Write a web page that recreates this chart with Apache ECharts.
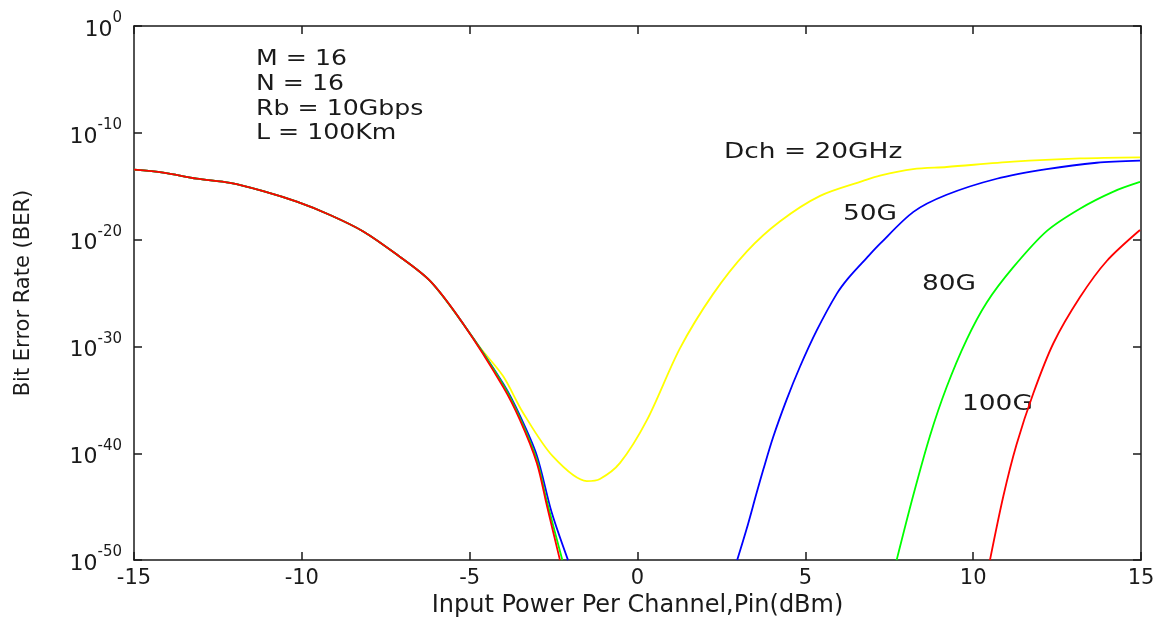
<!DOCTYPE html>
<html>
<head>
<meta charset="utf-8">
<script src="https://cdn.jsdelivr.net/npm/echarts@6/dist/echarts.min.js"></script>
<style>html,body{margin:0;padding:0;background:#fff}#c{width:1160px;height:623px}</style>
</head>
<body>
<div id="c"></div>
<script>
// Y values are log10(BER); the axis shows them as powers of ten.
// Shared low-power branch (all four Dch values coincide here)
var commonX   = [-15, -14.13, -13.13, -12.14, -11.15, -10.15, -9.16, -8.17, -7.17, -6.18, -5.19];
var commonLog = [-13.45, -13.73, -14.29, -14.69, -15.46, -16.45, -17.69, -19.23, -21.4, -23.87, -27.9];

// Dch = 20GHz (yellow)
var y20X   = [-4.69, -4.0, -3.41, -2.52, -1.51, -1.12, -0.52, 0.28, 1.26, 2.25, 3.26, 4.24, 5.44, 6.72, 7.22, 8.21, 9.21, 11.19, 13.18, 14.97];
var y20Log = [-30.1, -32.8, -36.2, -40.3, -42.6, -42.4, -40.9, -36.9, -30.2, -25.1, -21.1, -18.3, -15.9, -14.5, -14.0, -13.4, -13.2, -12.7, -12.4, -12.3];

// Dch = 50G (blue): falling branch, then rising branch
var b50LeftX   = [-4.0, -3.5, -3.0, -2.56, -2.07];
var b50LeftLog = [-33.5, -36.5, -40.2, -45.5, -50];
var b50RightX   = [2.97, 3.25, 3.55, 3.75, 4.04, 4.44, 4.84, 5.34, 5.93, 6.28, 6.83, 7.22, 8.22, 9.21, 10.70, 12.19, 13.68, 14.97];
var b50RightLog = [-50, -47.1, -43.7, -41.5, -38.5, -35.0, -31.9, -28.5, -25.1, -23.6, -21.7, -20.4, -17.4, -15.8, -14.3, -13.4, -12.8, -12.6];

// Dch = 80G (green)
var g80LeftX   = [-4.0, -3.5, -3.0, -2.7, -2.24];
var g80LeftLog = [-33.6, -36.7, -40.6, -44.5, -50];
var g80RightX   = [7.72, 8.21, 8.71, 9.21, 9.80, 10.40, 11.19, 12.19, 13.18, 14.18, 14.97];
var g80RightLog = [-50, -44.0, -38.4, -33.8, -29.4, -25.9, -22.6, -19.2, -17.1, -15.5, -14.6];

// Dch = 100G (red)
var r100LeftX   = [-4.0, -3.5, -3.0, -2.7, -2.31];
var r100LeftLog = [-33.8, -36.9, -40.9, -44.9, -50];
var r100RightX   = [10.50, 10.90, 11.29, 11.79, 12.39, 13.18, 13.98, 14.97];
var r100RightLog = [-50, -44.0, -39.2, -34.4, -29.7, -25.4, -22.0, -19.1];

var xTicks = [-15, -10, -5, 0, 5, 10, 15];
var yTickExps = [-50, -40, -30, -20, -10, 0];
var annotations = ['M = 16', 'N = 16', 'Rb = 10Gbps', 'L = 100Km'];
var curveLabels = ['Dch = 20GHz', '50G', '80G', '100G'];

function pts(xs, ls) {
  var out = [];
  for (var i = 0; i < xs.length; i++) out.push([xs[i], ls[i]]);
  return out;
}
function build(parts) {
  var out = [];
  parts.forEach(function (p, i) {
    if (i > 0) out.push('-');
    out = out.concat(pts(p[0], p[1]));
  });
  return out;
}
var dataY = pts(commonX.concat(y20X), commonLog.concat(y20Log));
var dataB = build([[commonX.concat(b50LeftX), commonLog.concat(b50LeftLog)], [b50RightX, b50RightLog]]);
var dataG = build([[commonX.concat(g80LeftX), commonLog.concat(g80LeftLog)], [g80RightX, g80RightLog]]);
var dataR = build([[commonX.concat(r100LeftX), commonLog.concat(r100LeftLog)], [r100RightX, r100RightLog]]);

var FONT = 'DejaVu Sans';
var TXT = '#1a1a1a';
var axisColor = '#1a1a1a';

function lineSeries(name, data, color) {
  return {
    name: name, type: 'line', data: data, showSymbol: false, symbol: 'none',
    smooth: 0.3, connectNulls: false, animation: false,
    lineStyle: { color: color, width: 1.8 }
  };
}
function label(text, left, top, size, sx) {
  return { type: 'text', left: left, top: top, scaleX: sx, scaleY: 1,
    style: { text: text, font: size + 'px "DejaVu Sans"', fill: TXT } };
}

var chart = echarts.init(document.getElementById('c'), null, { renderer: 'canvas' });
chart.setOption({
  backgroundColor: '#fff',
  animation: false,
  grid: { left: 134, right: 19, top: 26, bottom: 58 },
  xAxis: [{
    type: 'value', min: -15, max: 15, interval: 5, position: 'bottom',
    name: 'Input Power Per Channel,Pin(dBm)', nameLocation: 'middle', nameGap: 31,
    nameTextStyle: { fontFamily: FONT, fontSize: 24, color: TXT },
    axisLine: { show: true, onZero: false, lineStyle: { color: axisColor, width: 1.5 } },
    axisTick: { show: true, inside: true, length: 8, lineStyle: { color: axisColor, width: 1.5 } },
    axisLabel: { fontFamily: FONT, fontSize: 21, color: TXT, margin: 8,
      formatter: function (v) { return xTicks.indexOf(v) >= 0 ? String(v) : ''; } },
    splitLine: { show: false }
  }, {
    type: 'value', min: -15, max: 15, interval: 5, position: 'top',
    axisLine: { show: true, onZero: false, lineStyle: { color: axisColor, width: 1.5 } },
    axisTick: { show: true, inside: true, length: 8, lineStyle: { color: axisColor, width: 1.5 } },
    axisLabel: { show: false }, splitLine: { show: false }
  }],
  yAxis: [{
    type: 'value', min: -50, max: 0, interval: 10, position: 'left',
    name: 'Bit Error Rate (BER)', nameLocation: 'middle', nameGap: 100,
    nameTextStyle: { fontFamily: FONT, fontSize: 21, color: TXT },
    axisLine: { show: true, onZero: false, lineStyle: { color: axisColor, width: 1.5 } },
    axisTick: { show: true, inside: true, length: 8, lineStyle: { color: axisColor, width: 1.5 } },
    axisLabel: {
      margin: 12, color: TXT,
      formatter: function (v) { return yTickExps.indexOf(v) >= 0 ? '{b|10}{s|' + v + '}' : ''; },
      rich: {
        b: { fontFamily: FONT, fontSize: 22, color: TXT, verticalAlign: 'bottom', lineHeight: 30 },
        s: { fontFamily: FONT, fontSize: 15, color: TXT, verticalAlign: 'top', lineHeight: 30 }
      }
    },
    splitLine: { show: false }
  }, {
    type: 'value', min: -50, max: 0, interval: 10, position: 'right',
    axisLine: { show: true, onZero: false, lineStyle: { color: axisColor, width: 1.5 } },
    axisTick: { show: true, inside: true, length: 8, lineStyle: { color: axisColor, width: 1.5 } },
    axisLabel: { show: false }, splitLine: { show: false }
  }],
  series: [
    lineSeries('Dch = 20GHz', dataY, '#ffff00'),
    lineSeries('50G', dataB, '#0000ff'),
    lineSeries('80G', dataG, '#00ff00'),
    lineSeries('100G', dataR, '#ff0000')
  ],
  graphic: [
    label(annotations[0], 256, 49, 21, 1.2),
    label(annotations[1], 256, 74, 21, 1.2),
    label(annotations[2], 256, 99, 21, 1.2),
    label(annotations[3], 256, 123, 21, 1.2),
    label(curveLabels[0], 724, 141, 22, 1.2),
    label(curveLabels[1], 843, 203, 22, 1.2),
    label(curveLabels[2], 922, 273, 22, 1.2),
    label(curveLabels[3], 962, 393, 22, 1.2)
  ]
});
</script>
</body>
</html>
